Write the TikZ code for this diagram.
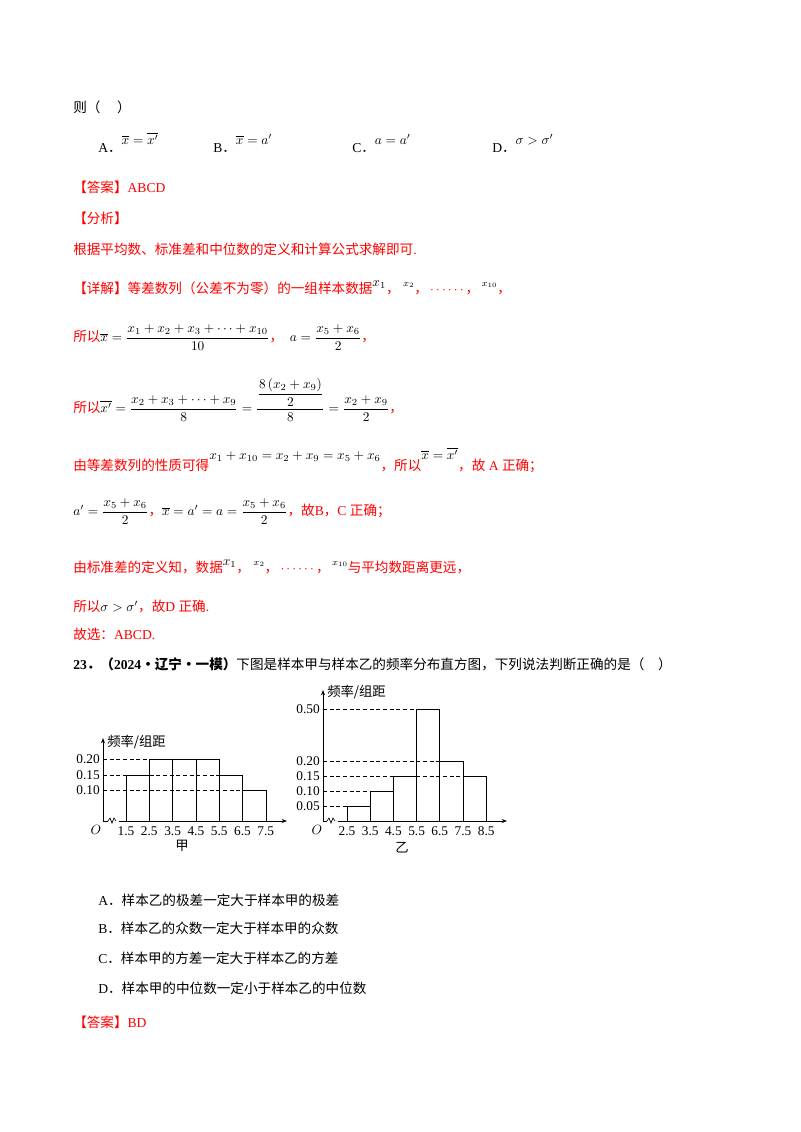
\documentclass[tikz,border=0pt]{standalone}
\usepackage{amsmath}
\usepackage{fontspec}
\setmainfont{Liberation Serif}
\newfontfamily\cjk{Noto Sans CJK SC}
\usetikzlibrary{arrows.meta}
\definecolor{ansred}{RGB}{255,0,0}
\newcommand{\dd}{{\cjk ．}}
\begin{document}
\begin{tikzpicture}[x=0.75pt,y=-0.75pt,
  tx/.style={anchor=base west,inner sep=0pt,font=\fontsize{10.2}{12}\selectfont},
  txc/.style={anchor=west,inner sep=0pt,font=\fontsize{10.2}{12}\selectfont},
  rd/.style={text=ansred},
  ax/.style={line width=0.6pt,-{Stealth[length=4pt,width=3pt]}},
  bar/.style={line width=0.6pt},
  dsh/.style={line width=0.5pt,dash pattern=on 3pt off 2pt},
  lab/.style={inner sep=0pt,font=\fontsize{10}{12}\selectfont}]
\useasboundingbox[fill=white] (0,0) rectangle (800,1132);

\node[tx] (t0) at (73,112) {{\cjk 则（\quad\ ）}};
\node[tx] (oa) at (98,152) {A\dd\raisebox{6pt}{$\overline{x}=\overline{x'}$}};
\node[tx] (ob) at (213,152) {B\dd\raisebox{6pt}{$\overline{x}=a'$}};
\node[tx] (oc) at (352,152) {C\dd\raisebox{6pt}{$a=a'$}};
\node[tx] (od) at (492,152) {D\dd\raisebox{6pt}{$\sigma>\sigma'$}};

\node[tx,rd] (ans) at (73,192) {{\cjk 【答案】}ABCD};
\node[tx,rd] (fx) at (73,223) {{\cjk 【分析】}};
\node[tx,rd] (fx2) at (73,254) {{\cjk 根据平均数、标准差和中位数的定义和计算公式求解即可}.};
\node[tx,rd] (xj) at (73,293) {{\cjk 【详解】等差数列（公差不为零）的一组样本数据}\textcolor{black}{\raisebox{5pt}{$x_1$}}{\cjk ，}\ \textcolor{black}{\raisebox{5pt}{$\scriptstyle x_2$}}{\cjk ，}\,$\cdots\cdots${\cjk ，}\,\textcolor{black}{\raisebox{5pt}{$\scriptstyle x_{10}$}}{\cjk ，}};

\node[txc,rd] (s1) at (73,338) {{\cjk 所以}\textcolor{black}{$\overline{x}=\dfrac{x_1+x_2+x_3+\cdots+x_{10}}{10}$}{\cjk ，}\ \ \textcolor{black}{$a=\dfrac{x_5+x_6}{2}$}{\cjk ，}};
\node[txc,rd] (s2) at (73,400) {{\cjk 所以}\textcolor{black}{$\overline{x'}=\dfrac{x_2+x_3+\cdots+x_9}{8}=\dfrac{\dfrac{8\left(x_2+x_9\right)}{2}}{8}=\dfrac{x_2+x_9}{2}$}{\cjk ，}};
\node[tx,rd] (s3) at (73,470) {{\cjk 由等差数列的性质可得}\textcolor{black}{\raisebox{8pt}{$x_1+x_{10}=x_2+x_9=x_5+x_6$}}{\cjk ，所以}\textcolor{black}{\raisebox{8pt}{$\overline{x}=\overline{x'}$}}{\cjk ，故} A {\cjk 正确；}};
\node[txc,rd] (s4) at (73,512) {\textcolor{black}{$a'=\dfrac{x_5+x_6}{2}$}{\cjk ，}\textcolor{black}{$\overline{x}=a'=a=\dfrac{x_5+x_6}{2}$}{\cjk ，故}B{\cjk ，}C {\cjk 正确；}};
\node[tx,rd] (s5) at (73,572) {{\cjk 由标准差的定义知，数据}\textcolor{black}{\raisebox{5pt}{$x_1$}}{\cjk ，}\ \textcolor{black}{\raisebox{5pt}{$\scriptstyle x_2$}}{\cjk ，}\,$\cdots\cdots${\cjk ，}\,\textcolor{black}{\raisebox{5pt}{$\scriptstyle x_{10}$}}{\cjk 与平均数距离更远，}};
\node[tx,rd] (s6) at (73,611) {{\cjk 所以}\textcolor{black}{$\sigma>\sigma'$}{\cjk ，故}D {\cjk 正确}.};
\node[tx,rd] (s7) at (73,639) {{\cjk 故选：}ABCD.};
\node[tx] (q23) at (73,669) {\textbf{23}{\cjk\bfseries ．（}\textbf{2024}{\cjk\bfseries ·辽宁·一模）}{\cjk 下图是样本甲与样本乙的频率分布直方图，下列说法判断正确的是（\quad ）}};

% Histogram 甲
\coordinate (o1) at (103,821);
\draw[ax] (o1) -- (103,738);
\draw[ax] (o1) -- (287,821);
\draw[line width=0.5pt,white,fill=white] (108,819) rectangle (118,823);
\draw[line width=0.5pt] (108,821) -- (110,818) -- (112,823) -- (114,818) -- (116,821);
\foreach \a/\b/\h in {126/149.3/775, 149.3/172.6/759, 172.6/195.9/759, 195.9/219.2/759, 219.2/242.5/775, 242.5/266/790}
  \draw[bar] (\a,821) -- (\a,\h) -- (\b,\h) -- (\b,821);
\draw[dsh] (103,759) -- (149.3,759);
\draw[dsh] (103,775) -- (219.2,775);
\draw[dsh] (103,790) -- (242.5,790);
\node[lab,anchor=east] (j20) at (100,759) {0.20};
\node[lab,anchor=east] (j15) at (100,775) {0.15};
\node[lab,anchor=east] (j10) at (100,790) {0.10};
\node[lab,anchor=west] (jy) at (107,742) {\cjk 频率/组距};
\node[lab] (jo) at (96,830) {$O$};
\foreach \v [count=\i from 0] in {1.5,2.5,3.5,4.5,5.5,6.5,7.5}
  \node[lab] (jx\i) at (126+23.3*\i,831) {\v};
\node[lab] (jia) at (182,846) {\cjk 甲};

% Histogram 乙
\coordinate (o2) at (323,821);
\draw[ax] (o2) -- (323,690);
\draw[ax] (o2) -- (507,821);
\draw[line width=0.5pt,white,fill=white] (327,819) rectangle (337,823);
\draw[line width=0.5pt] (327,821) -- (329,818) -- (331,823) -- (333,818) -- (335,821);
\foreach \a/\b/\h in {347/370.2/806, 370.2/393.4/791, 393.4/416.6/776, 416.6/439.8/709, 439.8/463/761, 463/486/776}
  \draw[bar] (\a,821) -- (\a,\h) -- (\b,\h) -- (\b,821);
\draw[dsh] (323,709) -- (416.6,709);
\draw[dsh] (323,761) -- (439.8,761);
\draw[dsh] (323,776) -- (463,776);
\draw[dsh] (323,791) -- (370.2,791);
\draw[dsh] (323,806) -- (347,806);
\node[lab,anchor=east] (y50) at (320,709) {0.50};
\node[lab,anchor=east] (y20) at (320,761) {0.20};
\node[lab,anchor=east] (y15) at (320,776) {0.15};
\node[lab,anchor=east] (y10) at (320,791) {0.10};
\node[lab,anchor=east] (y05) at (320,806) {0.05};
\node[lab,anchor=west] (yy) at (327,692) {\cjk 频率/组距};
\node[lab] (yo) at (317,830) {$O$};
\foreach \v [count=\i from 0] in {2.5,3.5,4.5,5.5,6.5,7.5,8.5}
  \node[lab] (yx\i) at (347+23.2*\i,831) {\v};
\node[lab] (yi) at (402,848) {\cjk 乙};

\node[tx] (pa) at (98,905) {A\dd{\cjk 样本乙的极差一定大于样本甲的极差}};
\node[tx] (pb) at (98,933) {B\dd{\cjk 样本乙的众数一定大于样本甲的众数}};
\node[tx] (pc) at (98,963) {C\dd{\cjk 样本甲的方差一定大于样本乙的方差}};
\node[tx] (pd) at (98,993) {D\dd{\cjk 样本甲的中位数一定小于样本乙的中位数}};
\node[tx,rd] (ans2) at (73,1027) {{\cjk 【答案】}BD};
\end{tikzpicture}
\end{document}
